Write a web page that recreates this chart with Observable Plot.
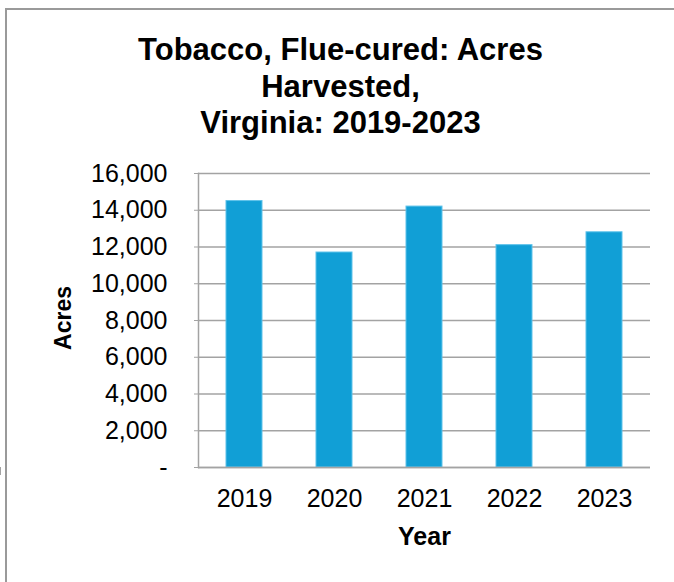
<!DOCTYPE html>
<html>
<head>
<meta charset="utf-8">
<script src="https://cdn.jsdelivr.net/npm/d3@7"></script>
<script src="https://cdn.jsdelivr.net/npm/@observablehq/plot@0.6"></script>
<style>
  html, body { margin: 0; padding: 0; background: #fff; }
  #wrap { position: relative; width: 674px; height: 582px; overflow: hidden; background: #fff; font-family: "Liberation Sans", Arial, sans-serif; }
  #border { position: absolute; left: 5px; top: 8px; width: 700px; height: 600px; border-left: 2px solid #9a9a9a; border-top: 2px solid #9a9a9a; pointer-events: none; box-sizing: border-box; }
  #title { position: absolute; left: 40.5px; width: 600px; top: 32px; text-align: center; font-weight: bold; font-size: 31px; line-height: 36.5px; color: #000; }
  #chart { position: absolute; left: 0; top: 0; }
  .lab { position: absolute; font-weight: bold; color: #000; white-space: nowrap; line-height: 1; }
  #ylab { left: 63px; top: 318px; font-size: 23px; transform: translate(-50%, -50%) rotate(-90deg); }
  #xlab { left: 424.5px; top: 536px; font-size: 25px; transform: translate(-50%, -50%); }
</style>
</head>
<body>
<div id="wrap">
  <div id="chart"></div>
  <div id="title">Tobacco, Flue-cured: Acres<br>Harvested,<br>Virginia: 2019-2023</div>
  <div id="ylab" class="lab"></div>
  <div id="xlab" class="lab"></div>
  <div id="border"></div>
</div>
<script>
const years = ["2019", "2020", "2021", "2022", "2023"];
const acres = [14500, 11700, 14200, 12100, 12800];
const yTicks = [0, 2000, 4000, 6000, 8000, 10000, 12000, 14000, 16000];
const xLabel = "Year";
const yLabel = "Acres";

document.getElementById("ylab").textContent = yLabel;
document.getElementById("xlab").textContent = xLabel;

const data = years.map((y, i) => ({year: y, acres: acres[i]}));
const gridColor = "#a3a3a3";

// custom mark: category boundary ticks on the x axis
function boundaryTicks(index, scales, values, dims) {
  const x = scales.x;
  const step = x(years[1]) - x(years[0]);
  const gap = step - x.bandwidth;
  const y0 = dims.height - dims.marginBottom;
  const g = d3.create("svg:g").attr("stroke", gridColor).attr("stroke-width", 1.5);
  const bounds = years.map(y => x(y) - gap / 2).concat([x(years[years.length - 1]) + x.bandwidth + gap / 2]);
  for (const b of bounds) {
    g.append("line").attr("x1", b).attr("x2", b).attr("y1", y0).attr("y2", y0 + 8);
  }
  return g.node();
}

const chart = Plot.plot({
  width: 674,
  height: 582,
  marginTop: 173,
  marginBottom: 115,
  marginLeft: 198,
  marginRight: 24,
  style: {background: "transparent", fontFamily: "'Liberation Sans', Arial, sans-serif", color: "#000"},
  x: {type: "band", domain: years, paddingInner: 0.6, paddingOuter: 0.3},
  y: {domain: [0, 16000]},
  marks: [
    Plot.ruleY(yTicks, {stroke: gridColor, strokeWidth: 1.5}),
    Plot.barY(data, {x: "year", y: "acres", fill: "#119fd6", stroke: "#5ec2ea", strokeWidth: 1}),
    Plot.frame({anchor: "left", stroke: gridColor, strokeWidth: 1.5}),
    Plot.ruleY([0], {stroke: gridColor, strokeWidth: 1.5}),
    boundaryTicks,
    Plot.axisY({ticks: yTicks, tickSize: 4, tickPadding: 27, stroke: gridColor, fontSize: 25,
      tickFormat: d => d === 0 ? "-" : d3.format(",")(d), label: null}),
    Plot.axisX({tickSize: 0, tickPadding: 22, fontSize: 25, label: null})
  ]
});
document.getElementById("chart").appendChild(chart);
</script>
</body>
</html>
